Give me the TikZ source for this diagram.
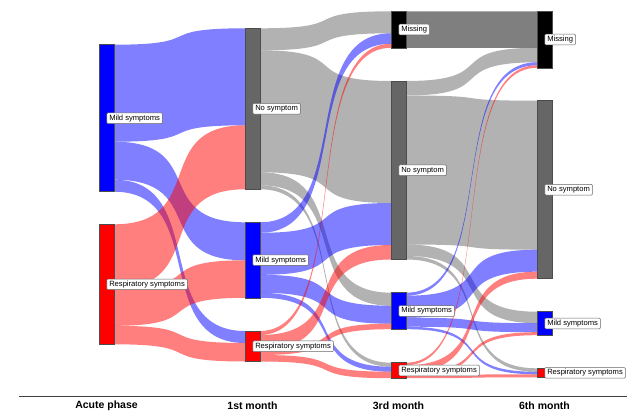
\documentclass[tikz,border=0pt]{standalone}
\usepackage{fontspec}
\setmainfont{Liberation Sans}
\usetikzlibrary{positioning}
\usetikzlibrary{backgrounds}

% band from #1 (offset #2) to #3 (offset #4), thickness #5, style #6
\newcommand{\band}[6]{%
  \fill[#6] ([yshift=-#2pt]#1.north east)
    .. controls +(95pt,0) and +(-95pt,0) .. ([yshift=-#4pt]#3.north west)
    -- ([yshift={-(#4+#5)*1pt}]#3.north west)
    .. controls +(-95pt,0) and +(95pt,0) .. ([yshift={-(#2+#5)*1pt}]#1.north east)
    -- cycle;}

\begin{document}
\begin{tikzpicture}[x=1pt, y=1pt,
  bar/.style={draw=black!70, line width=0.5pt, minimum width=15pt,
    inner sep=0pt, outer sep=0pt, anchor=north},
  lbl/.style={draw=black!60, fill=white, line width=0.5pt, rounded corners=1pt,
    inner xsep=2.5pt, inner ysep=1.7pt, text height=5.6pt, text depth=1.6pt,
    font=\fontsize{7.6}{9}\selectfont},
  title/.style={font=\fontsize{10.5}{12}\selectfont\bfseries},
  mildflow/.style={fill=blue, fill opacity=0.5},
  respflow/.style={fill=red, fill opacity=0.5},
  noflow/.style={fill=black!60, fill opacity=0.5},
  missflow/.style={fill=black, fill opacity=0.5}]
  \useasboundingbox (0,0) rectangle (627,-412);

  % acute phase
  \node[bar, fill=blue, minimum height=147pt] (m0) at (106.5,-44.7) {};
  \node[bar, fill=red, minimum height=120pt] (r0) at (106.5,-224.3) {};
  % 1st month
  \node[bar, fill=black!60, minimum height=161pt] (n1) at (252.5,-28.3) {};
  \node[bar, fill=blue, minimum height=75.5pt] (m1) at (252.5,-222.3) {};
  \node[bar, fill=red, minimum height=30.5pt] (r1) at (252.5,-331) {};
  % 3rd month
  \node[bar, fill=black, minimum height=36.5pt] (x2) at (398.5,-11.3) {};
  \node[bar, fill=black!60, minimum height=178.5pt] (n2) at (398.5,-81) {};
  \node[bar, fill=blue, minimum height=36.5pt] (m2) at (398.5,-292.7) {};
  \node[bar, fill=red, minimum height=15.5pt] (r2) at (398.5,-362.7) {};
  % 6th month
  \node[bar, fill=black, minimum height=56.5pt] (x3) at (544.5,-11.3) {};
  \node[bar, fill=black!60, minimum height=178pt] (n3) at (544.5,-100.7) {};
  \node[bar, fill=blue, minimum height=23.5pt] (m3) at (544.5,-311.7) {};
  \node[bar, fill=red, minimum height=9pt] (r3) at (544.5,-368.3) {};

  \begin{scope}[on background layer]
    % acute -> 1st month
    \band{m0}{0}{n1}{0}{97}{mildflow}
    \band{m0}{97}{m1}{0}{38}{mildflow}
    \band{m0}{135}{r1}{0}{12}{mildflow}
    \band{r0}{0}{n1}{97}{64}{respflow}
    \band{r0}{64}{m1}{38}{37.5}{respflow}
    \band{r0}{101.5}{r1}{12}{18.5}{respflow}
    % 1st -> 3rd month
    \band{n1}{0}{x2}{0}{22}{noflow}
    \band{n1}{22}{n2}{0}{122}{noflow}
    \band{n1}{144}{m2}{0}{13}{noflow}
    \band{n1}{157}{r2}{0}{4}{noflow}
    \band{m1}{0}{x2}{22}{10.5}{mildflow}
    \band{m1}{10.5}{n2}{122}{42}{mildflow}
    \band{m1}{52.5}{m2}{13}{18}{mildflow}
    \band{m1}{70.5}{r2}{4}{5}{mildflow}
    \band{r1}{0}{x2}{32.5}{4}{respflow}
    \band{r1}{4}{n2}{164}{14.5}{respflow}
    \band{r1}{18.5}{m2}{31}{5.5}{respflow}
    \band{r1}{24}{r2}{9}{6.5}{respflow}
    % 3rd -> 6th month
    \band{x2}{0}{x3}{0}{36.5}{missflow}
    \band{n2}{0}{x3}{36.5}{14.5}{noflow}
    \band{n2}{14.5}{n3}{0}{149}{noflow}
    \band{n2}{163.5}{m3}{0}{11.5}{noflow}
    \band{n2}{175}{r3}{0}{3.5}{noflow}
    \band{m2}{0}{x3}{51}{3}{mildflow}
    \band{m2}{3}{n3}{149}{22}{mildflow}
    \band{m2}{25}{m3}{11.5}{9}{mildflow}
    \band{m2}{34}{r3}{3.5}{2.5}{mildflow}
    \band{r2}{0}{x3}{54}{2.5}{respflow}
    \band{r2}{2.5}{n3}{171}{7}{respflow}
    \band{r2}{9.5}{m3}{20.5}{3}{respflow}
    \band{r2}{12.5}{r3}{6}{3}{respflow}
  \end{scope}

  % labels
  \node[lbl, right=0pt of m0.center] (lm0) {Mild symptoms};
  \node[lbl, right=0pt of r0.center] (lr0) {Respiratory symptoms};
  \node[lbl, right=0pt of n1.center] (ln1) {No symptom};
  \node[lbl, right=0pt of m1.center] (lm1) {Mild symptoms};
  \node[lbl, right=0pt of r1.center] (lr1) {Respiratory symptoms};
  \node[lbl, right=0pt of x2.center] (lx2) {Missing};
  \node[lbl, right=0pt of n2.center] (ln2) {No symptom};
  \node[lbl, right=0pt of m2.center] (lm2) {Mild symptoms};
  \node[lbl, right=0pt of r2.center] (lr2) {Respiratory symptoms};
  \node[lbl, right=0pt of x3.center] (lx3) {Missing};
  \node[lbl, right=0pt of n3.center] (ln3) {No symptom};
  \node[lbl, right=0pt of m3.center] (lm3) {Mild symptoms};
  \node[lbl, right=0pt of r3.center] (lr3) {Respiratory symptoms};

  % time axis
  \draw[black!75, line width=0.8pt] (19,-396) -- (627,-396);
  \node[title] (t0) at (106.5,-406) {Acute phase};
  \node[title] (t1) at (252.5,-406) {1st month};
  \node[title] (t2) at (398.5,-406) {3rd month};
  \node[title] (t3) at (544.5,-406) {6th month};
\end{tikzpicture}
\end{document}
